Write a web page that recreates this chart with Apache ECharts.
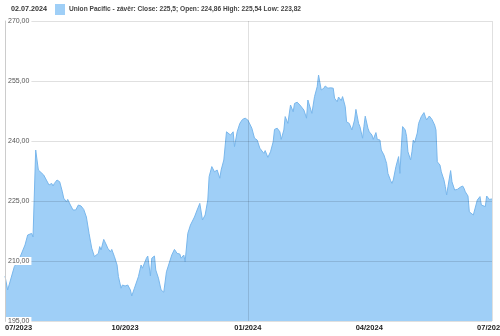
<!DOCTYPE html>
<html><head><meta charset="utf-8">
<script src="https://cdn.jsdelivr.net/npm/echarts@6/dist/echarts.min.js"></script>
<style>html,body{margin:0;padding:0;background:#fff}#c{width:500px;height:336px}</style>
</head><body><div id="c"></div><script>
const startDate = '2023-07-03';
const dayCount = 366;
const dayOffsets = [0,2,7,11,15,17,20,21,23,25,26,29,31,33,35,36,37,39,41,42,43,44,46,47,49,51,52,53,55,56,57,59,61,62,63,65,67,68,70,71,72,74,76,77,79,80,82,84,85,87,88,90,91,92,94,95,97,100,102,103,104,106,107,109,110,112,113,115,116,117,119,121,122,125,127,129,131,132,134,135,137,139,140,142,144,146,148,150,152,153,155,157,159,161,162,164,166,167,169,171,172,174,176,178,180,182,185,187,189,191,192,194,195,197,199,201,202,204,206,207,209,210,211,212,214,215,216,217,219,221,222,224,226,227,228,230,231,232,234,235,237,239,240,242,244,246,247,249,250,252,253,255,256,258,260,262,263,265,266,268,269,270,272,273,275,276,278,279,281,282,284,286,287,289,290,291,293,295,296,297,298,300,301,302,304,305,306,307,309,310,312,314,315,316,318,320,322,323,324,326,327,329,330,331,332,334,335,337,339,340,341,343,344,345,347,348,349,351,352,354,356,357,358,360,361,363,364,365];
const closes = [206.25,202.75,208.6,210.75,214,216.5,216.9,216,237.75,232.75,232.3,231.5,230.25,229,229.4,228.75,229.4,230.25,229.8,229.8,227.3,225.7,224.8,225.4,224,222.75,223.2,222.75,224,224.4,223.75,222.9,221,220.7,216.9,213.2,211.1,211.5,211.9,213.6,212.75,215.4,214,213.2,212.3,212.9,211.1,209,206.1,203.2,204,203.75,203.4,204,202.75,201.25,203.2,206.1,209,208.2,208.2,210.7,211.25,206.25,210.7,211.25,207.75,205.7,205.25,202.75,202.2,207.3,207.75,211.5,212.9,211.9,211.75,210.7,211.5,209.8,216.9,219,219.4,221,222.75,224.4,220.25,221.5,225.25,231.1,233.6,232.3,232.75,230.7,232.75,235.25,242.3,241.9,241.5,242.3,238.6,242.3,244.4,245.4,245.7,245.25,243.2,240.7,240.25,238.2,238.6,236.9,237.6,235.9,237.3,239.8,242.9,243.2,242.3,240.4,242.75,246.1,246.5,244.4,249,248.6,247.3,249.4,249.7,249,249.4,247.75,245.7,250.25,250.4,246.9,246.5,251.1,253.6,256.5,252.75,253.2,253.75,253.2,253.3,253.2,250.7,249.8,251,250.1,251.1,248.6,244.8,244.4,242.75,245.25,247.9,244.4,243.6,240.7,243.6,246.2,243.2,242.3,241.5,240.4,242.1,240.4,240.25,237.75,236.5,234.4,231.9,230.1,229.4,230.25,233.6,236.1,231.9,238.2,243.6,242.75,241.1,237.3,235.25,237.3,240.25,239.6,242,244.4,246.1,247.1,246.1,245.25,246.25,245.4,244,242.75,234.8,234,232.3,230.25,228.6,226.5,228.6,232.6,229.8,227.75,227.9,227.75,228.4,228.75,228.2,227.3,226.25,222.3,221.9,221.5,222.75,225.25,226.1,224,223.6,223.6,226.25,225.4,225.6,225.5];
const yMin = 195, yMax = 270, yStep = 15;
const headerDate = '02.07.2024';
const seriesName = 'Union Pacific - závěr';
const lastQuote = 'Close: 225,5; Open: 224,86 High: 225,54 Low: 223,82';

const pad = n => (n < 10 ? '0' : '') + n;
const base = Date.UTC(2023, 6, 3);
const cats = [];
for (let i = 0; i < dayCount; i++) {
  const d = new Date(base + i * 86400000);
  cats.push(d.getUTCFullYear() + '-' + pad(d.getUTCMonth() + 1) + '-' + pad(d.getUTCDate()));
}
const values = new Array(dayCount).fill(null);
dayOffsets.forEach((o, k) => { values[o] = closes[k]; });

const isQuarterStart = (i) => {
  const c = cats[i];
  const m = +c.slice(5, 7), day = +c.slice(8, 10);
  return i === 0 || (day === 1 && (m - 1) % 3 === 0);
};
const isYearStart = (i) => cats[i].slice(5) === '01-01' || i === dayCount - 1;

const chart = echarts.init(document.getElementById('c'), null, {renderer: 'canvas'});
chart.setOption({
  animation: false,
  backgroundColor: '#fff',
  textStyle: {fontFamily: 'Liberation Sans, Arial, sans-serif'},
  title: {
    text: headerDate, left: 11, top: 6, padding: 0,
    textStyle: {fontSize: 7.2, fontWeight: 'bold', color: '#333'}
  },
  legend: {
    left: 55, top: 4, padding: 0, itemWidth: 10, itemHeight: 11, itemGap: 4,
    icon: 'rect',
    data: [seriesName],
    formatter: name => name + ': ' + lastQuote,
    textStyle: {fontSize: 6.6, fontWeight: 'bold', color: '#444', padding: [0, 0, 0, -1]}
  },
  grid: {left: 5, right: 8, top: 21, bottom: 15, containLabel: false, outerBoundsMode: 'none'},
  xAxis: {
    type: 'category', data: cats, boundaryGap: false, z: 5,
    axisLine: {show: false}, axisTick: {show: false},
    axisLabel: {
      interval: (i) => isQuarterStart(i),
      formatter: (v) => v.slice(5, 7) + '/' + v.slice(0, 4),
      alignMinLabel: 'left', hideOverlap: false,
      fontSize: 7.5, fontWeight: 'bold', color: '#222', margin: 3
    },
    splitLine: {show: true, interval: (i) => isYearStart(i), lineStyle: {color: 'rgba(0,0,0,0.12)', width: 1}}
  },
  yAxis: {
    type: 'value', min: yMin, max: yMax, interval: yStep, z: 5,
    axisLine: {show: true, lineStyle: {color: '#ccc'}}, axisTick: {show: false},
    axisLabel: {
      inside: true, margin: 1,
      formatter: v => v.toFixed(2).replace('.', ','),
      fontSize: 7, color: '#555', backgroundColor: '#fff', padding: [1, 2, 0, 2]
    },
    splitLine: {show: true, lineStyle: {color: 'rgba(0,0,0,0.12)', width: 1}}
  },
  series: [{
    name: seriesName, type: 'line', data: values, connectNulls: true,
    showSymbol: false, symbol: 'none', z: 2,
    itemStyle: {color: '#9fcff7'},
    lineStyle: {color: '#79b7ec', width: 1},
    areaStyle: {color: '#9fcff7', opacity: 1}
  }]
});
</script></body></html>
